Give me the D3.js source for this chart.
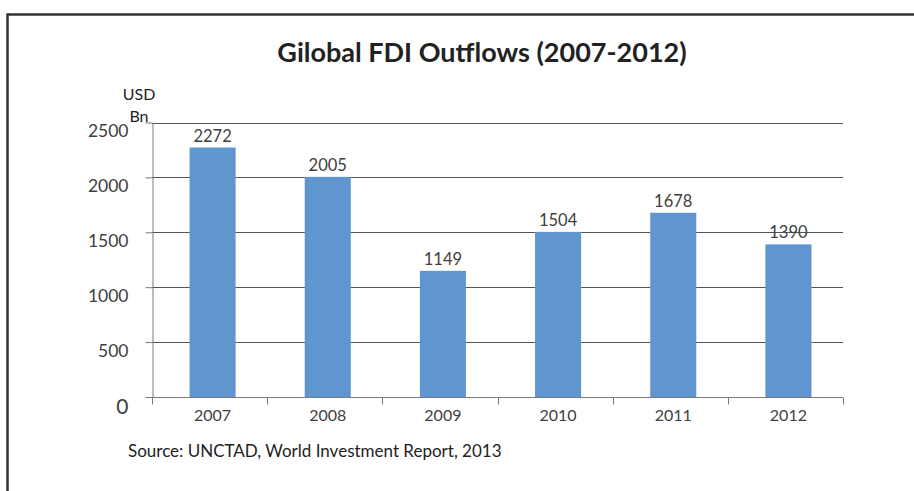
<!DOCTYPE html>
<html>
<head>
<meta charset="utf-8">
<script src="https://cdn.jsdelivr.net/npm/d3@7"></script>
<style>
  html, body { margin: 0; padding: 0; background: #fff; }
  svg { display: block; font-family: Lato, "Open Sans", sans-serif; }
</style>
</head>
<body>
<svg id="chart" width="914" height="491"></svg>
<script>
// Global FDI outflows, USD billions
const years = ["2007", "2008", "2009", "2010", "2011", "2012"];
const outflows = [2272, 2005, 1149, 1504, 1678, 1390];
const yTicks = [0, 500, 1000, 1500, 2000, 2500];

const titleText = "Gilobal FDI Outflows (2007-2012)";
const unitLines = ["USD", "Bn"];
const sourceText = "Source: UNCTAD, World Investment Report, 2013";

const svg = d3.select("#chart");

// outer frame (open on the right and bottom edges)
svg.append("path")
  .attr("d", "M7.5,491 L7.5,14.5 L914,14.5")
  .attr("fill", "none")
  .attr("stroke", "#333")
  .attr("stroke-width", 2.5);

const plot = { left: 152, right: 843, top: 122.5, bottom: 397 };

const x = d3.scaleBand()
  .domain(years)
  .range([plot.left, plot.right])
  .paddingInner(0)
  .paddingOuter(0);

const y = d3.scaleLinear()
  .domain([0, 2500])
  .range([plot.bottom, plot.top]);

// horizontal gridlines
svg.append("g")
  .selectAll("line")
  .data(yTicks.filter(d => d > 0))
  .join("line")
  .attr("x1", plot.left)
  .attr("x2", plot.right)
  .attr("y1", d => Math.round(y(d)) + 0.5)
  .attr("y2", d => Math.round(y(d)) + 0.5)
  .attr("stroke", "#555")
  .attr("stroke-width", 1);

// bars (Excel-style 150% gap width)
const barW = x.bandwidth() / 2.5;
const barShift = 3;
svg.append("g")
  .selectAll("rect")
  .data(years)
  .join("rect")
  .attr("x", (d) => x(d) + (x.bandwidth() - barW) / 2 + barShift)
  .attr("width", barW)
  .attr("y", (d, i) => y(outflows[i]))
  .attr("height", (d, i) => plot.bottom - y(outflows[i]))
  .attr("fill", "#6096cf");

// value labels above bars
svg.append("g")
  .selectAll("text")
  .data(years)
  .join("text")
  .attr("x", d => x(d) + x.bandwidth() / 2 + barShift)
  .attr("y", (d, i) => y(outflows[i]) - 6)
  .attr("text-anchor", "middle")
  .attr("font-size", 16.5)
  .attr("fill", "#404040")
  .text((d, i) => outflows[i]);

// y axis
const yAxis = svg.append("g")
  .attr("transform", `translate(${plot.left + 0.5},0)`)
  .call(d3.axisLeft(y).tickValues(yTicks).tickSize(7).tickSizeOuter(0).tickFormat(d3.format("d")));
yAxis.select(".domain").attr("stroke", "#7a7a7a");
yAxis.selectAll(".tick line").attr("stroke", "#7a7a7a");
yAxis.selectAll(".tick text")
  .attr("x", -24)
  .attr("dy", d => d === 0 ? "0.78em" : "0.82em")
  .attr("font-family", "Lato, sans-serif")
  .attr("font-size", d => d === 0 ? 21 : 17.5)
  .attr("fill", "#404040");

// x axis with tick marks at category boundaries
const xAxisG = svg.append("g").attr("transform", `translate(0,${plot.bottom + 0.5})`);
xAxisG.append("line")
  .attr("x1", plot.left).attr("x2", plot.right)
  .attr("stroke", "#7a7a7a");
const edges = years.map(d => x(d)).concat([plot.right]);
xAxisG.selectAll("line.edge")
  .data(edges)
  .join("line")
  .attr("class", "edge")
  .attr("x1", d => Math.round(d) + 0.5)
  .attr("x2", d => Math.round(d) + 0.5)
  .attr("y1", 0)
  .attr("y2", 7)
  .attr("stroke", "#7a7a7a");
xAxisG.selectAll("text")
  .data(years)
  .join("text")
  .attr("x", d => x(d) + x.bandwidth() / 2 + barShift)
  .attr("y", 23)
  .attr("text-anchor", "middle")
  .attr("font-size", 16)
  .attr("fill", "#404040")
  .text(d => d);

// title
svg.append("text")
  .attr("x", 482)
  .attr("y", 62)
  .attr("text-anchor", "middle")
  .attr("font-size", 27)
  .attr("font-weight", "bold")
  .attr("fill", "#222")
  .text(titleText);

// unit label
svg.append("g")
  .selectAll("text")
  .data(unitLines)
  .join("text")
  .attr("x", 139)
  .attr("y", (d, i) => 100 + i * 22)
  .attr("text-anchor", "middle")
  .attr("font-size", 16)
  .attr("fill", "#222")
  .text(d => d);

// source note
svg.append("text")
  .attr("x", 128)
  .attr("y", 457)
  .attr("font-size", 17)
  .attr("fill", "#222")
  .text(sourceText);
</script>
</body>
</html>
